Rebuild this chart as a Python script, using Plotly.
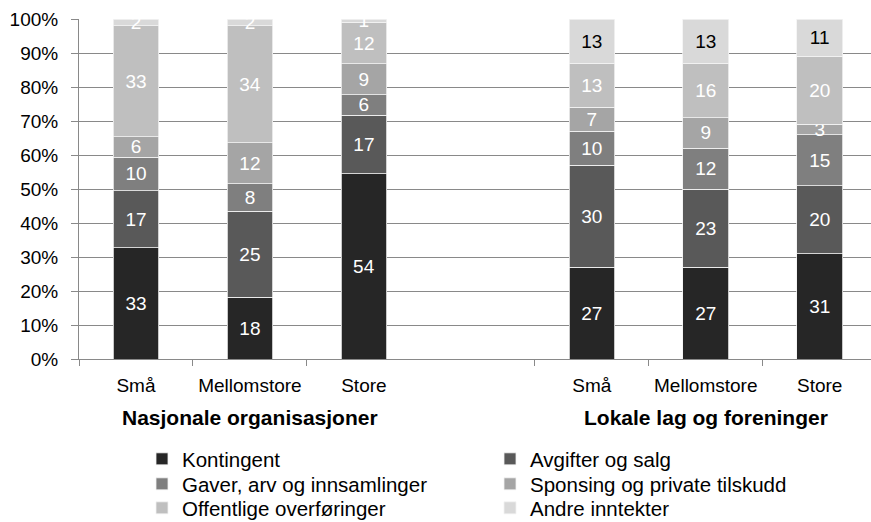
import plotly.graph_objects as go

# ---- data ----
sizes = ["Små", "Mellomstore", "Store"]
groups = ["Nasjonale organisasjoner", "Lokale lag og foreninger"]
series_names = ["Kontingent", "Avgifter og salg", "Gaver, arv og innsamlinger",
                "Sponsing og private tilskudd", "Offentlige overføringer", "Andre inntekter"]
kontingent = [33, 18, 54, 27, 27, 31]
avgifter = [17, 25, 17, 30, 23, 20]
gaver = [10, 8, 6, 10, 12, 15]
sponsing = [6, 12, 9, 7, 9, 3]
offentlige = [33, 34, 12, 13, 16, 20]
andre = [2, 2, 1, 13, 13, 11]
y_ticks = [0, 10, 20, 30, 40, 50, 60, 70, 80, 90, 100]

series_values = [kontingent, avgifter, gaver, sponsing, offentlige, andre]
colors = ["#262626", "#595959", "#7f7f7f", "#a5a5a5", "#bfbfbf", "#d9d9d9"]

W, H = 871, 522
M_L, M_R, M_T, M_B = 79, 0, 19, 163
PLOT_H = H - M_T - M_B
FONT = "Liberation Sans, Arial, sans-serif"
GRID = "#898989"

cat_ids = [f"{g}|{s}" for g in groups for s in sizes]
cat_group = [gi for gi, g in enumerate(groups) for s in sizes]
gap_id = "gap"
category_array = cat_ids[:3] + [gap_id] + cat_ids[3:]
tick_text = [s for g in groups for s in sizes]

# legend layout: 2 columns x 3 rows (pixel positions of each entry)
legend_cols_px = [142, 490]
legend_rows_px = [459, 484, 508]
group_title_px = 417

fig = go.Figure()
legend_layouts = {}
for i, (name, vals, col) in enumerate(zip(series_names, series_values, colors)):
    if i == len(series_names) - 1:
        tcolors = ["white" if g == 0 else "black" for g in cat_group]
    else:
        tcolors = ["white"] * len(vals)
    lid = "legend" if i == 0 else f"legend{i + 1}"
    fig.add_trace(go.Bar(
        name=name, x=cat_ids, y=vals, width=0.4,
        marker=dict(color=col, line=dict(color="#f2f2f2", width=0.8)),
        text=[str(v) for v in vals], textposition="inside",
        insidetextanchor="middle", textangle=0,
        textfont=dict(family=FONT, size=19, color=tcolors),
        cliponaxis=False, hoverinfo="skip",
        legend=lid,
    ))
    cx = legend_cols_px[i % 2]
    ry = legend_rows_px[i // 2]
    legend_layouts[lid] = dict(
        xref="container", yref="container",
        x=cx / W, xanchor="left", y=1 - ry / H, yanchor="middle",
        font=dict(family=FONT, size=20.5, color="black"),
        bgcolor="rgba(0,0,0,0)", borderwidth=0,
    )

fig.update_layout(
    width=W, height=H,
    margin=dict(l=M_L, r=M_R, t=M_T, b=M_B, autoexpand=False),
    paper_bgcolor="white", plot_bgcolor="white",
    barmode="stack", barnorm="percent",
    font=dict(family=FONT, size=19, color="black"),
    uniformtext=dict(mode="show", minsize=19),
    showlegend=True,
    xaxis=dict(
        type="category", categoryorder="array", categoryarray=category_array,
        tickmode="array", tickvals=cat_ids, ticktext=tick_text,
        tickson="boundaries", ticks="outside", ticklen=6, tickcolor=GRID,
        showline=True, linecolor=GRID, linewidth=1, showgrid=False,
        range=[-0.5, 6.45], ticklabelstandoff=9, automargin=False,
        tickfont=dict(family=FONT, size=19, color="black"),
    ),
    yaxis=dict(
        range=[0, 100], tickmode="array", tickvals=y_ticks,
        ticktext=[f"{v}%" for v in y_ticks],
        ticks="outside", ticklen=7, tickcolor=GRID,
        showline=True, linecolor=GRID, linewidth=1,
        showgrid=True, gridcolor=GRID, gridwidth=1, zeroline=False,
        ticklabelstandoff=9, automargin=False,
        tickfont=dict(family=FONT, size=19, color="black"),
    ),
    **legend_layouts,
)

for gi, g in enumerate(groups):
    mid = cat_ids[gi * len(sizes) + len(sizes) // 2]
    fig.add_annotation(
        x=mid, xref="x", y=(H - M_B - group_title_px) / PLOT_H, yref="paper",
        yanchor="middle",
        text=f"<b>{g}</b>", showarrow=False,
        font=dict(family=FONT, size=21, color="black"),
    )

fig.write_html(
    "out.html",
    config={"displayModeBar": False},
    post_script="document.body.style.margin='0';document.body.style.overflow='hidden';",
)
